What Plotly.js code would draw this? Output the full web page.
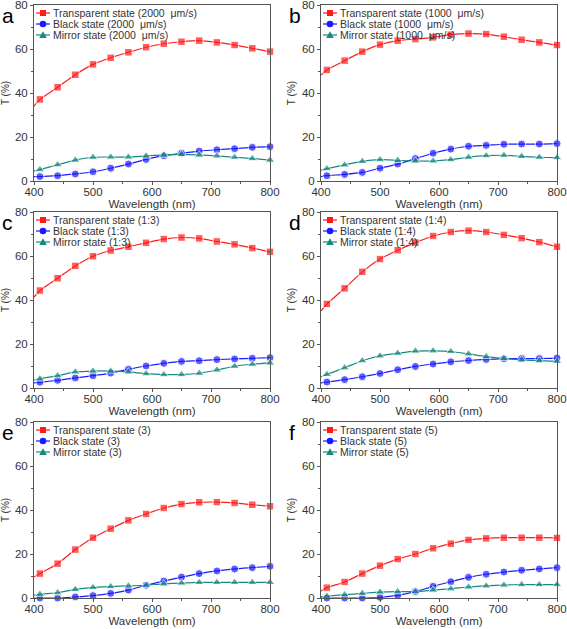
<!DOCTYPE html>
<html>
<head>
<meta charset="utf-8">
<script src="https://cdn.plot.ly/plotly-3.0.1.min.js"></script>
<style>
html,body{margin:0;padding:0;background:#fff;}
#chart{width:567px;height:629px;}
</style>
</head>
<body>
<div id="chart"></div>
<script>
// Wavelength (nm): first point is the curve start at 400 nm (no marker), markers every 30 nm from 410 nm
const wavelength = [400,410,440,470,500,530,560,590,620,650,680,710,740,770,800];

const panelLetters = ['a','b','c','d','e','f'];
const transparentNames = ['Transparent state (2000  \u03bcm/s)','Transparent state (1000  \u03bcm/s)','Transparent state (1:3)','Transparent state (1:4)','Transparent state (3)','Transparent state (5)'];
const blackNames = ['Black state (2000  \u03bcm/s)','Black state (1000  \u03bcm/s)','Black state (1:3)','Black state (1:4)','Black state (3)','Black state (5)'];
const mirrorNames = ['Mirror state (2000  \u03bcm/s)','Mirror state (1000  \u03bcm/s)','Mirror state (1:3)','Mirror state (1:4)','Mirror state (3)','Mirror state (5)'];

// Panel a (2000 um/s)
const transA = [34,37.1,42.6,48.3,53,56,58.5,60.8,62.4,63.3,63.8,63,61.8,60.3,58.8];
const blackA = [2,2,2.4,3.2,4.2,5.8,7.7,9.8,11.5,12.6,13.6,14.2,14.7,15.3,15.6];
const mirrorA = [4.5,5.2,7.4,9.5,10.8,10.9,10.9,11.4,11.8,12.1,11.8,11.4,10.8,10.2,9.5];
// Panel b (1000 um/s)
const transB = [48.2,50.5,54.7,58.8,62,63.8,64.5,65.3,66.5,67,66.8,65.6,64.2,63,61.8];
const blackB = [2,2.4,3,3.9,5.8,7.7,10.2,12.6,14.5,15.8,16.2,16.7,16.8,16.8,17];
const mirrorB = [4.8,5.6,7.3,8.9,9.7,9.4,9.1,9.1,9.7,10.8,11.5,11.7,11.2,10.8,10.6];
// Panel c (1:3)
const transC = [41.3,44.3,49.9,55.5,59.9,62.5,64.2,66,67.7,68.4,68,66.6,65.3,63.6,61.9];
const blackC = [2.3,2.6,3.5,4.6,5.6,6.8,8.5,10,11.2,12.1,12.4,12.9,13.2,13.5,13.8];
const mirrorC = [3.5,4.2,5.6,7.3,7.7,7.7,7.3,6.5,6.1,6.1,6.7,8.2,9.9,10.8,11.4];
// Panel d (1:4)
const transD = [35,38.2,45.3,52.8,58.6,62.6,66.1,69.1,70.9,71.5,70.9,69.6,68.1,66.3,64.2];
const blackD = [2.3,2.7,3.8,5.1,6.6,8.3,9.8,10.9,11.9,12.5,13,13.3,13.4,13.4,13.6];
const mirrorD = [5,6.2,9.2,12.4,14.6,15.8,16.8,16.9,16.6,15.5,14.3,13.4,12.8,12.4,12.1];
// Panel e (3)
const transE = [9.5,11.1,15.6,22,27.4,31.5,35.3,38.2,40.9,42.7,43.5,43.6,43.2,42.4,41.7];
const blackE = [0,0,0,0.5,1.1,2.1,3.6,5.8,7.7,9.5,11.1,12.3,13.2,13.8,14.4];
const mirrorE = [1.2,1.7,2.4,3.9,4.8,5.2,5.5,5.8,6.4,6.8,7.1,7.1,7.1,7.1,7.1];
// Panel f (5)
const transF = [3.2,4.7,7.3,11.1,14.7,17.7,20,22.6,24.7,26.4,27.1,27.4,27.4,27.4,27.3];
const blackF = [0,0,0,0,0.3,1.2,2.9,5.3,7.4,9.4,10.8,11.8,12.6,13.2,13.8];
const mirrorF = [0.5,0.8,1.5,2.1,2.7,2.9,2.9,3.6,4.2,5,5.5,5.9,6.1,6.1,6.1];

const yTickVals = [0,20,40,60,80];
const xTickVals = [400,500,600,700,800];

const transAll = [transA,transB,transC,transD,transE,transF];
const blackAll = [blackA,blackB,blackC,blackD,blackE,blackF];
const mirrorAll = [mirrorA,mirrorB,mirrorC,mirrorD,mirrorE,mirrorF];
const namesAll = [transparentNames, blackNames, mirrorNames];

const RED = '#ff1a1a', BLUE = '#1a1aff', TEAL = '#168a82';
const COLORS = [RED, BLUE, TEAL];
const SYMBOLS = ['square', 'circle', 'triangle-up'];
const SIZES = [7.5, 8, 8.5];
const FONT = 'Liberation Sans, Arial, sans-serif';
const AX = '#555555';

// layout geometry (pixels)
const W = 567, H = 629;
const colX = [[34,270],[321,557]];
const rowY = [[5,181],[212,388],[422,598]];
const px = v => v / W;          // pixel x -> paper
const py = v => 1 - v / H;      // pixel y -> paper

const traces = [];
const layout = {
  width: W, height: H,
  margin: {l:0,r:0,t:0,b:0},
  paper_bgcolor: '#fff', plot_bgcolor: 'rgba(0,0,0,0)',
  font: {family: FONT, color: '#333', size: 11},
  showlegend: false,
  annotations: [],
  shapes: []
};

function keyShapes(s, cx, cy, color) {
  const out = [];
  out.push({type: 'line', xref: 'paper', yref: 'paper', x0: px(cx - 7), x1: px(cx + 7), y0: py(cy), y1: py(cy),
    line: {color: color, width: 1.2}});
  if (s === 0) {
    out.push({type: 'rect', xref: 'paper', yref: 'paper', x0: px(cx - 3), x1: px(cx + 3), y0: py(cy + 3), y1: py(cy - 3),
      fillcolor: color, line: {width: 0}});
  } else if (s === 1) {
    out.push({type: 'circle', xref: 'paper', yref: 'paper', x0: px(cx - 3.3), x1: px(cx + 3.3), y0: py(cy + 3.3), y1: py(cy - 3.3),
      fillcolor: color, line: {width: 0}});
  } else {
    const path = 'M' + px(cx - 3.8) + ',' + py(cy + 3) + ' L' + px(cx + 3.8) + ',' + py(cy + 3) + ' L' + px(cx) + ',' + py(cy - 3.8) + ' Z';
    out.push({type: 'path', xref: 'paper', yref: 'paper', path: path, fillcolor: color, line: {width: 0}});
  }
  return out;
}

for (let p = 0; p < 6; p++) {
  const col = p % 2, row = Math.floor(p / 2);
  const n = p === 0 ? '' : String(p+1);
  const xa = 'x' + n, ya = 'y' + n;
  const seriesAll = [transAll[p], blackAll[p], mirrorAll[p]];

  for (let s = 0; s < 3; s++) {
    const sz = wavelength.map((w,i)=> i===0 ? 0 : SIZES[s]);
    traces.push({
      x: wavelength, y: seriesAll[s], xaxis: xa, yaxis: ya, mode: 'lines+markers',
      name: namesAll[s][p], cliponaxis: false,
      line: {color: COLORS[s], width: 1.2, shape: 'spline', smoothing: 0.6},
      marker: {symbol: SYMBOLS[s], size: sz, color: COLORS[s]}
    });
    // legend key (line + marker) and label
    const cx = colX[col][0] + 9;
    const cy = rowY[row][0] + 8 + s * 11;
    layout.shapes.push(...keyShapes(s, cx, cy, COLORS[s]));
    layout.annotations.push({
      text: namesAll[s][p], xref: 'paper', yref: 'paper',
      x: px(cx + 8), y: py(cy), xanchor: 'left', yanchor: 'middle',
      showarrow: false, font: {size: 10.5, color: '#333', family: FONT}
    });
  }

  layout['xaxis' + n] = {
    domain: [px(colX[col][0]), px(colX[col][1])], anchor: ya, range: [400, 800],
    tickvals: xTickVals, ticks: 'outside', ticklen: 3, tickwidth: 1, tickcolor: AX,
    minor: {dtick: 50, ticks: 'outside', ticklen: 2, tickcolor: AX},
    showline: true, linecolor: AX, linewidth: 1, mirror: true,
    showgrid: false, zeroline: false, ticklabeloverflow: 'allow', ticklabelstandoff: -3,
    tickfont: {size: 11.5, color: '#333'},
    title: {text: 'Wavelength (nm)', font: {size: 11.5, color: '#333'}, standoff: 0}
  };
  layout['yaxis' + n] = {
    domain: [py(rowY[row][1]), py(rowY[row][0])], anchor: xa, range: [0, 80],
    tickvals: yTickVals, ticks: 'outside', ticklen: 3, tickwidth: 1, tickcolor: AX,
    minor: {dtick: 10, ticks: 'outside', ticklen: 2, tickcolor: AX},
    showline: true, linecolor: AX, linewidth: 1, mirror: true,
    showgrid: false, zeroline: false, ticklabeloverflow: 'allow',
    tickfont: {size: 11.5, color: '#333'},
    title: {text: 'T (%)', font: {size: 10, color: '#333'}, standoff: 4}
  };
  layout.annotations.push({
    text: panelLetters[p], xref: 'paper', yref: 'paper',
    x: px(colX[col][0] - 34), y: py(rowY[row][0] + 10),
    xanchor: 'left', yanchor: 'middle', showarrow: false,
    font: {size: 21, color: '#000', family: FONT}
  });
}

Plotly.newPlot('chart', traces, layout, {displayModeBar: false, staticPlot: true});
</script>
</body>
</html>
